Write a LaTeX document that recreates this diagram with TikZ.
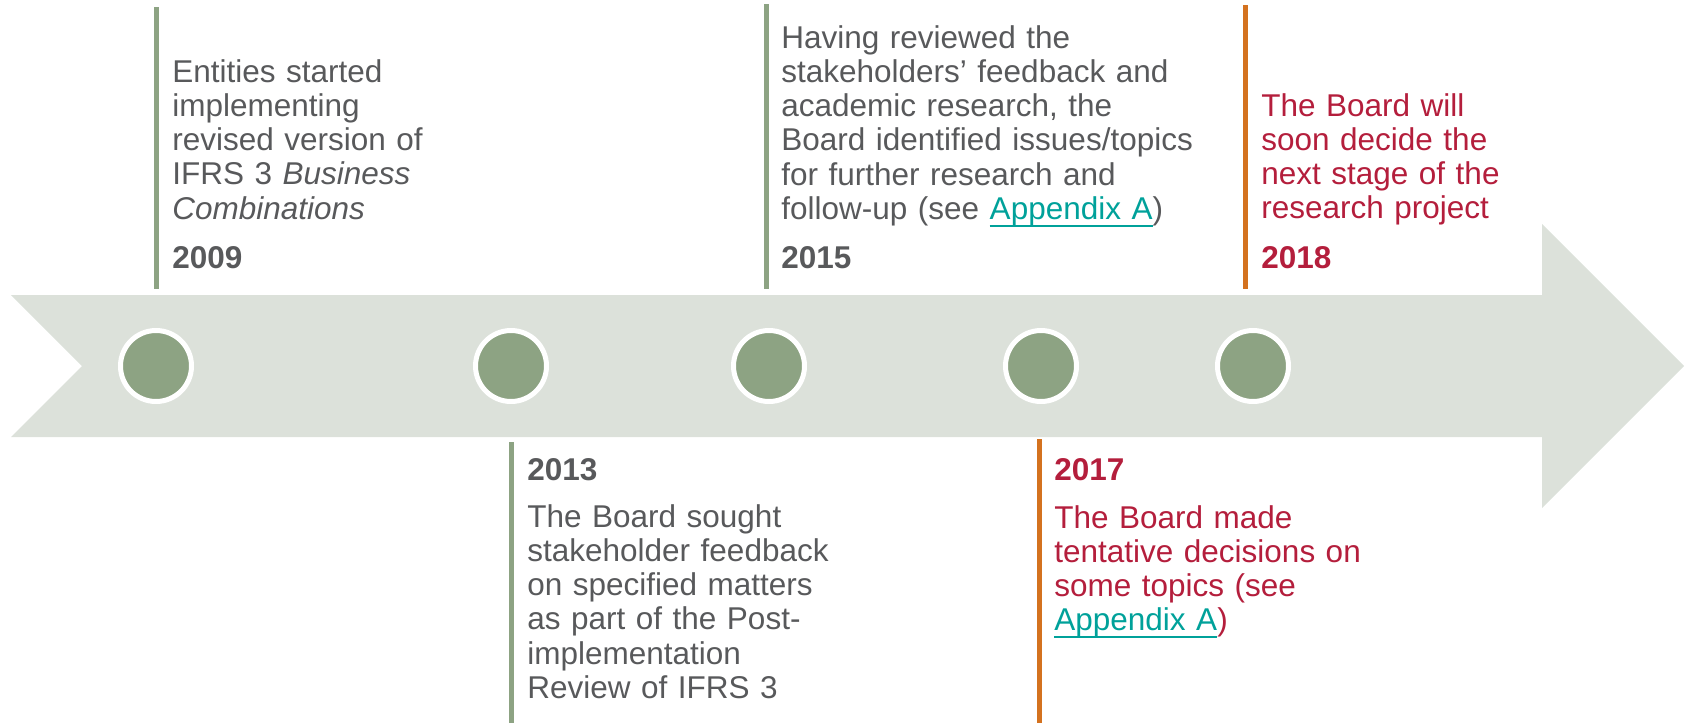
\documentclass[tikz,border=0pt]{standalone}
\usepackage{fontspec}
\setmainfont{Liberation Sans}

\definecolor{textgray}{HTML}{58595B}
\definecolor{dotgreen}{HTML}{8DA383}
\definecolor{bandgray}{HTML}{DCE1DA}
\definecolor{barorange}{HTML}{D4721F}
\definecolor{boardred}{HTML}{B41E3C}
\definecolor{linkteal}{HTML}{00A19A}
\newcommand{\appxlink}[1]{\leavevmode{\color{linkteal}\setbox0\hbox{#1}\rlap{\rule[-3.6pt]{\wd0}{0.9pt}}\box0}}

\begin{document}
\begin{tikzpicture}[x=0.5pt,y=-0.5pt]
	\tikzstyle{dot} = [circle,fill=dotgreen,draw=white,line width=2.5pt,minimum size=35.5pt,inner sep=0pt]
	\tikzstyle{bar} = [line width=2.5pt]
	\tikzstyle{note} = [anchor=base west,inner sep=0pt,text width=230pt,align=left,font=\fontsize{15.75}{17.15}\selectfont]
	\tikzstyle{year} = [anchor=base west,inner sep=0pt,font=\fontsize{15.75}{17.15}\selectfont\bfseries]
	\useasboundingbox (0,0) rectangle (1688,723);
	% arrow band
	\fill[bandgray] (11,295) -- (1542,295) -- (1542,224) -- (1684,366) -- (1542,508)
		-- (1542,437) -- (11,437) -- (82,366) -- cycle;
	% milestones
	\foreach \x [count=\i] in {156,511,769,1041,1253}
		\node[dot] (dot\i) at (\x,366) {};
	% bars
	\foreach \x/\ya/\yb/\c in {156/7/289/dotgreen, 511/442/723/dotgreen, 766/4/289/dotgreen,
		1039/439/723/barorange, 1245/5/289/barorange}
		\draw[bar,\c] (\x,\ya) -- (\x,\yb);
	% 2009
	\node[note,text=textgray] (text2009) at (172,82) {Entities started\\
		implementing\\ revised version of\\ IFRS 3 \textit{Business}\\ \textit{Combinations}};
	\node[year,text=textgray] (year2009) at (172,268) {2009};
	% 2013
	\node[year,text=textgray] (year2013) at (527,480) {2013};
	\node[note,text=textgray] (text2013) at (527,527) {The Board sought\\
		stakeholder feedback\\ on specified matters\\ as part of the Post-\\
		implementation\\ Review of IFRS 3};
	% 2015
	\node[note,text=textgray] (text2015) at (781,48) {Having reviewed the\\
		stakeholders’ feedback and\\ academic research, the\\
		Board identified issues/topics\\ for further research and\\
		follow-up (see \appxlink{Appendix A})};
	\node[year,text=textgray] (year2015) at (781,268) {2015};
	% 2017
	\node[year,text=boardred] (year2017) at (1054,480) {2017};
	\node[note,text=boardred] (text2017) at (1054,528) {The Board made\\
		tentative decisions on\\ some topics (see\\ \appxlink{Appendix A})};
	% 2018
	\node[note,text=boardred] (text2018) at (1261,116) {The Board will\\
		soon decide the\\ next stage of the\\ research project};
	\node[year,text=boardred] (year2018) at (1261,268) {2018};
\end{tikzpicture}
\end{document}
